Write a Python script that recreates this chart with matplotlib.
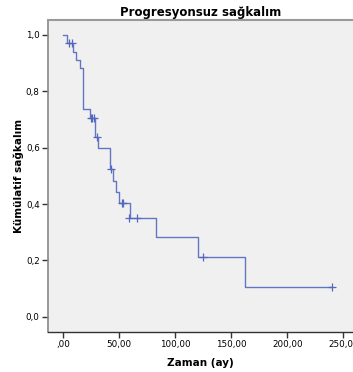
import matplotlib
matplotlib.use("Agg")
import matplotlib.pyplot as plt

# Kaplan-Meier event times (months) and survival after each event
event_times = [3.0, 9.0, 11.6, 15.2, 17.6, 23.8, 28.3, 31.3, 41.7, 44.6, 47.0, 49.4, 59.6, 82.8, 120.0, 162.2]
event_surv = [0.970, 0.939, 0.911, 0.882, 0.736, 0.704, 0.637, 0.598, 0.523, 0.482, 0.444, 0.403, 0.352, 0.282, 0.211, 0.105]
end_time = 240.0

# Censored observations
censor_times = [5.0, 7.5, 24.5, 25.6, 27.0, 30.0, 42.3, 52.0, 53.6, 59.0, 66.0, 124.5, 240.0]
censor_surv = [0.970, 0.970, 0.704, 0.704, 0.704, 0.637, 0.523, 0.403, 0.403, 0.352, 0.352, 0.211, 0.105]

xticks = [0, 50, 100, 150, 200, 250]
xticklabels = [",00", "50,00", "100,00", "150,00", "200,00", "250,00"]
yticks = [0.0, 0.2, 0.4, 0.6, 0.8, 1.0]
yticklabels = ["0,0", "0,2", "0,4", "0,6", "0,8", "1,0"]

fig = plt.figure(figsize=(3.53, 3.72), dpi=100)
ax = fig.add_axes([48/353, 1-332/372, 1-48/353, (332-20)/372])
ax.set_facecolor("#f0f0f0")

xs = [0] + event_times + [end_time]
ys = [1.0] + event_surv + [event_surv[-1]]
line_color = "#5568c0"
ax.step(xs, ys, where="post", color=line_color, lw=1.0, alpha=0.9)
ax.plot(censor_times, censor_surv, linestyle="none", marker="+", color=line_color,
        markersize=6, markeredgewidth=0.9)

ax.set_xlim(-13.7, 258.7)
ax.set_ylim(-0.054, 1.053)
ax.set_xticks(xticks)
ax.set_xticklabels(xticklabels)
ax.set_yticks(yticks)
ax.set_yticklabels(yticklabels)
ax.tick_params(axis="both", labelsize=6.3, length=4, width=1.0, color="#333333", pad=2)

ax.spines["left"].set_color("#888888")
ax.spines["left"].set_linewidth(1.2)
ax.spines["bottom"].set_color("#333333")
ax.spines["bottom"].set_linewidth(1.0)
ax.spines["top"].set_color("#999999")
ax.spines["top"].set_linewidth(1.5)
ax.spines["right"].set_visible(False)

ax.set_title("Progresyonsuz sağkalım", fontsize=8.5, fontweight="bold", pad=3)
ax.set_xlabel("Zaman (ay)", fontsize=7.5, fontweight="bold", labelpad=6)
ax.set_ylabel("Kümülatif sağkalım", fontsize=7.5, fontweight="bold", labelpad=1)

fig.savefig("out.png", dpi=100)
